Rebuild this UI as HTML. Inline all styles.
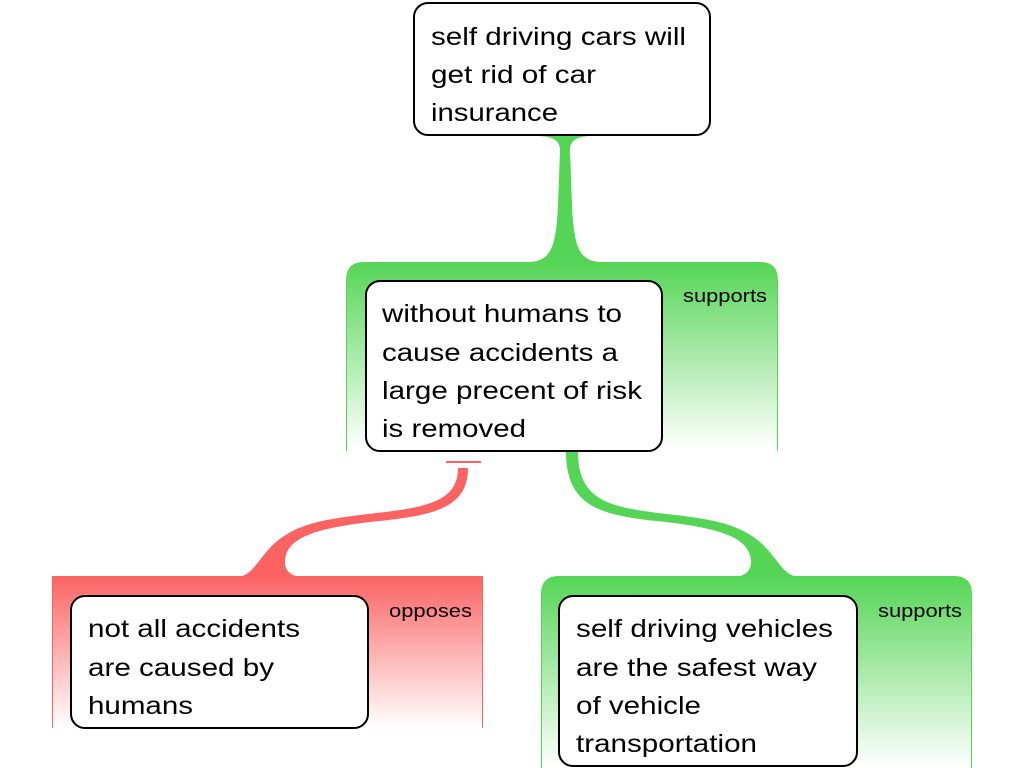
<!DOCTYPE html>
<html><head><meta charset="utf-8"><style>
html,body{margin:0;padding:0;background:#fff;}
svg{display:block;}
text{font-family:"Liberation Sans",sans-serif;fill:#000;}
.t{font-size:25px;}
.l{font-size:18px;}
</style></head><body>
<svg width="1024" height="768" viewBox="0 0 1024 768" xmlns="http://www.w3.org/2000/svg">
<defs>
<linearGradient id="g" x1="0" y1="0" x2="0" y2="1">
<stop offset="0" stop-color="#55d555"/><stop offset="1" stop-color="#55d555" stop-opacity="0"/>
</linearGradient>
<linearGradient id="r" x1="0" y1="0" x2="0" y2="1">
<stop offset="0" stop-color="#fb6363"/><stop offset="1" stop-color="#fb6363" stop-opacity="0"/>
</linearGradient>
</defs>
<!-- top connector -->
<path d="M528,262 C552,262 556,245 558,205 L560,150 C560,140 552,136 536,136 L592,136 C578,136 570,140 570,150 L572,205 C574,245 578,262 602,262 Z" fill="#55d555"/>
<!-- middle group -->
<path d="M346,450 L346,280 Q346,262 364,262 L760,262 Q778,262 778,280 L778,450 Z" fill="url(#g)"/>
<line x1="346.5" y1="280" x2="346.5" y2="451" stroke="#55d555"/>
<line x1="777.5" y1="280" x2="777.5" y2="451" stroke="#55d555"/>
<!-- red bar & connector -->
<line x1="446" y1="462" x2="481" y2="462" stroke="#fb6363" stroke-width="2"/>
<path d="M235,577 C250,577 255,565 268,550 C290,525 320,520 360,515 C420,508 458,505 458,468 L468,468 C468,510 430,516 370,522 C320,528 292,536 286,555 C282,570 290,577 305,577 Z" fill="#fb6363"/>
<!-- green right connector -->
<path d="M801,577 C786,577 781,565 768,550 C746,525 716,520 676,515 C616,508 578,505 578,452 L566,452 C566,510 606,516 666,522 C716,528 744,536 750,555 C754,570 746,577 731,577 Z" fill="#55d555"/>
<!-- red group -->
<rect x="52" y="576" width="431" height="152" fill="url(#r)"/>
<line x1="52.5" y1="576" x2="52.5" y2="728" stroke="#fb6363"/>
<line x1="482.5" y1="576" x2="482.5" y2="728" stroke="#fb6363"/>
<!-- green right group -->
<path d="M541,768 L541,594 Q541,576 559,576 L954,576 Q972,576 972,594 L972,768 Z" fill="url(#g)"/>
<line x1="541.5" y1="594" x2="541.5" y2="768" stroke="#55d555"/>
<line x1="971.5" y1="594" x2="971.5" y2="768" stroke="#55d555"/>
<!-- boxes -->
<rect x="414" y="3" width="296" height="132" rx="14" fill="#fff" stroke="#000" stroke-width="2"/>
<text class="t" x="431" y="45" textLength="255" lengthAdjust="spacingAndGlyphs">self driving cars will</text>
<text class="t" x="431" y="83" textLength="165" lengthAdjust="spacingAndGlyphs">get rid of car</text>
<text class="t" x="431" y="121" textLength="127" lengthAdjust="spacingAndGlyphs">insurance</text>

<rect x="366" y="281" width="296" height="170" rx="14" fill="#fff" stroke="#000" stroke-width="2"/>
<text class="t" x="382" y="322" textLength="240" lengthAdjust="spacingAndGlyphs">without humans to</text>
<text class="t" x="382" y="361" textLength="236" lengthAdjust="spacingAndGlyphs">cause accidents a</text>
<text class="t" x="382" y="399" textLength="260" lengthAdjust="spacingAndGlyphs">large precent of risk</text>
<text class="t" x="382" y="437" textLength="144" lengthAdjust="spacingAndGlyphs">is removed</text>
<text class="l" x="683" y="302" textLength="84" lengthAdjust="spacingAndGlyphs">supports</text>

<rect x="71" y="596" width="297" height="132" rx="14" fill="#fff" stroke="#000" stroke-width="2"/>
<text class="t" x="88" y="637" textLength="212" lengthAdjust="spacingAndGlyphs">not all accidents</text>
<text class="t" x="88" y="676" textLength="186" lengthAdjust="spacingAndGlyphs">are caused by</text>
<text class="t" x="88" y="714" textLength="105" lengthAdjust="spacingAndGlyphs">humans</text>
<text class="l" x="389" y="617" textLength="83" lengthAdjust="spacingAndGlyphs">opposes</text>

<rect x="559" y="596" width="298" height="170" rx="14" fill="#fff" stroke="#000" stroke-width="2"/>
<text class="t" x="576" y="637" textLength="257" lengthAdjust="spacingAndGlyphs">self driving vehicles</text>
<text class="t" x="576" y="676" textLength="241" lengthAdjust="spacingAndGlyphs">are the safest way</text>
<text class="t" x="576" y="714" textLength="125" lengthAdjust="spacingAndGlyphs">of vehicle</text>
<text class="t" x="576" y="752" textLength="181" lengthAdjust="spacingAndGlyphs">transportation</text>
<text class="l" x="878" y="617" textLength="84" lengthAdjust="spacingAndGlyphs">supports</text>
</svg>
</body></html>
